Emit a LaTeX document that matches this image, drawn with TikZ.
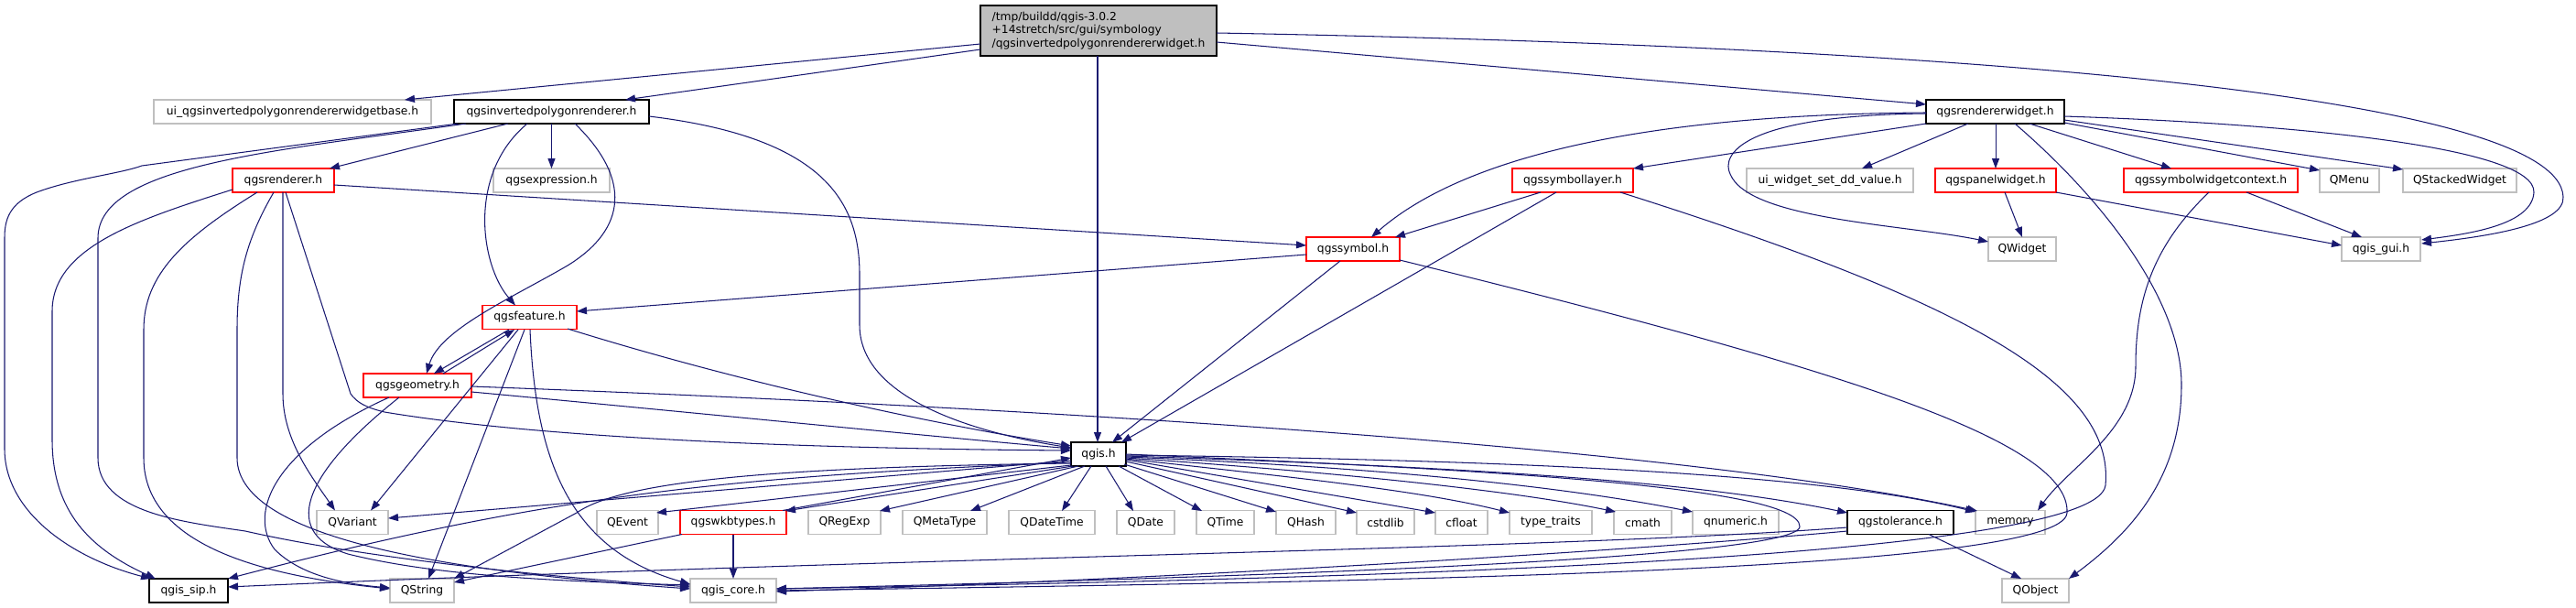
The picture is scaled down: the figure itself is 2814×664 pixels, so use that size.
\documentclass[tikz,border=0pt]{standalone}
\usepackage{fontspec}
\setmainfont{DejaVu Sans}
\usetikzlibrary{arrows.meta,calc}
\definecolor{edgec}{HTML}{191970}
\definecolor{extc}{HTML}{BFBFBF}
\definecolor{redc}{HTML}{FF0000}
\begin{document}
\begin{tikzpicture}[x=1pt,y=-1pt,
  box/.style={draw, rectangle, line width=1.1pt, inner sep=0pt, minimum height=26pt, font=\fontsize{12.3}{14.7}\selectfont},
  ext/.style={box, draw=extc},
  docn/.style={box, draw=redc},
  locn/.style={box, draw=black},
  e/.style={draw=edgec, line width=1.05pt, -{Triangle[length=11pt,width=8pt]}}
]
\useasboundingbox (0,0) rectangle (2814,664);
% nodes
\node[box, fill=extc, draw=black, minimum width=258pt, minimum height=55pt, align=left] (main) at (1200,33.5) {/tmp/buildd/qgis-3.0.2\\+14stretch/src/gui/symbology\\/qgsinvertedpolygonrendererwidget.h};
\node[ext, minimum width=303pt] (uib) at (319.5,122) {ui\_qgsinvertedpolygonrendererwidgetbase.h};
\node[locn, minimum width=213pt] (inv) at (602.5,122) {qgsinvertedpolygonrenderer.h};
\node[locn, minimum width=151pt] (rw) at (2179.5,122) {qgsrendererwidget.h};
\node[docn, minimum width=111pt] (rend) at (309.5,197) {qgsrenderer.h};
\node[ext, minimum width=127pt] (expr) at (602.5,197) {qgsexpression.h};
\node[docn, minimum width=132pt] (symlay) at (1718,197) {qgssymbollayer.h};
\node[ext, minimum width=182pt] (uidd) at (1999,197) {ui\_widget\_set\_dd\_value.h};
\node[docn, minimum width=132pt] (panel) at (2180,197) {qgspanelwidget.h};
\node[docn, minimum width=190pt] (swc) at (2415,197) {qgssymbolwidgetcontext.h};
\node[ext, minimum width=65pt] (qmenu) at (2566.5,197) {QMenu};
\node[ext, minimum width=124pt] (qsw) at (2687,197) {QStackedWidget};
\node[docn, minimum width=102pt] (sym) at (1478,272) {qgssymbol.h};
\node[ext, minimum width=74pt] (qwidget) at (2209,272) {QWidget};
\node[ext, minimum width=86pt] (gui) at (2601,272) {qgis\_gui.h};
\node[docn, minimum width=103pt] (feat) at (578.5,346.5) {qgsfeature.h};
\node[docn, minimum width=118pt] (geom) at (456,421) {qgsgeometry.h};
\node[locn, minimum width=60pt] (qgis) at (1200,496) {qgis.h};
\node[ext, minimum width=78pt] (qvariant) at (385,570.5) {QVariant};
\node[ext, minimum width=67pt] (qevent) at (685.5,570.5) {QEvent};
\node[docn, minimum width=116pt] (wkb) at (801,570.5) {qgswkbtypes.h};
\node[ext, minimum width=79pt] (qregexp) at (922.5,570.5) {QRegExp};
\node[ext, minimum width=92pt] (qmeta) at (1032,570.5) {QMetaType};
\node[ext, minimum width=94pt] (qdt) at (1149,570.5) {QDateTime};
\node[ext, minimum width=63pt] (qdate) at (1251.5,570.5) {QDate};
\node[ext, minimum width=63pt] (qtime) at (1338.5,570.5) {QTime};
\node[ext, minimum width=65pt] (qhash) at (1426.5,570.5) {QHash};
\node[ext, minimum width=63pt] (cstdlib) at (1513.5,570.5) {cstdlib};
\node[ext, minimum width=57pt] (cfloat) at (1596.5,570.5) {cfloat};
\node[ext, minimum width=90pt] (tt) at (1694,570.5) {type\_traits};
\node[ext, minimum width=63pt] (cmath) at (1794.5,570.5) {cmath};
\node[ext, minimum width=94pt] (qnum) at (1896,570.5) {qnumeric.h};
\node[locn, minimum width=116pt] (tol) at (2076,570.5) {qgstolerance.h};
\node[ext, minimum width=76pt] (memory) at (2196,570.5) {memory};
\node[locn, minimum width=86pt] (sip) at (206,645) {qgis\_sip.h};
\node[ext, minimum width=70pt] (qstring) at (461,645) {QString};
\node[ext, minimum width=94pt] (core) at (801,645) {qgis\_core.h};
\node[ext, minimum width=73pt] (qobject) at (2223.5,645) {QObject};
% edges from main
\draw[e] ($(main)+(-129,14.5)$) -- ($(uib)+(122.5,-13)$);
\draw[e] ($(main)+(-129,20.5)$) -- ($(inv)+(80.5,-13)$);
\draw[e] ($(main)+(-1,27.5)$) -- ($(qgis)+(-1,-13)$);
\draw[e] ($(main)+(129,12.5)$) -- ($(rw)+(-75.5,-8)$);
\draw[e] ($(main)+(129,2.5)$) .. controls (2100,50) and (2795,100) .. (2800,215) .. controls (2802,245) and (2720,258) .. ($(gui)+(44,-6)$);
% edges from qgsinvertedpolygonrenderer.h
\draw[e] ($(inv)+(-47.5,13)$) -- ($(rend)+(50.5,-13)$);
\draw[e] ($(inv)+(0,13)$) -- ($(expr)+(0,-13)$);
\draw[e] ($(inv)+(-26.5,13)$) .. controls (510,190) and (525,290) .. ($(feat)+(-15.5,-13)$);
\draw[e] ($(inv)+(25.5,13)$) .. controls (690,195) and (685,250) .. (620,290) .. controls (560,325) and (480,360) .. ($(geom)+(10,-13)$);
\draw[e] ($(inv)+(106.5,5)$) .. controls (900,150) and (939,220) .. (939,300) -- (939,355) .. controls (939,440) and (1080,475) .. ($(qgis)+(-30,-7)$);
\draw[e] ($(inv)+(-102.5,13)$) -- (155,181) .. controls (130,190) and (80,195) .. (40,210) .. controls (10,222) and (5,240) .. (5,260) -- (5,490) .. controls (5,560) and (80,610) .. ($(sip)+(-41,-13)$);
\draw[e] ($(inv)+(-93.5,13)$) .. controls (300,165) and (107,180) .. (107,260) -- (107,500) .. controls (107,560) and (200,570) .. (268,580) .. controls (400,610) and (600,630) .. ($(core)+(-47,-4)$);
% edges from qgsrenderer.h
\draw[e] ($(rend)+(55.5,5)$) -- ($(sym)+(-51,-4)$);
\draw[e] ($(rend)+(-55.5,10)$) .. controls (150,240) and (57,270) .. (57,340) -- (57,480) .. controls (57,560) and (100,600) .. ($(sip)+(-36,-13)$);
\draw[e] ($(rend)+(-28.5,13)$) .. controls (200,260) and (157,300) .. (157,360) -- (157,500) .. controls (157,600) and (300,630) .. ($(qstring)+(-35,-2)$);
\draw[e] ($(rend)+(-10.5,13)$) .. controls (270,260) and (259,300) .. (259,360) -- (259,500) .. controls (259,590) and (500,625) .. ($(core)+(-47,-2)$);
\draw[e] ($(rend)+(-0.5,13)$) -- (309,430) .. controls (309,480) and (340,520) .. ($(qvariant)+(-19,-13)$);
\draw[e] ($(rend)+(2.5,13)$) -- (383,430) .. controls (390,440) and (400,445) .. (420,450) .. controls (600,480) and (900,490) .. ($(qgis)+(-30,-4)$);
% edges from qgssymbol.h
\draw[e] ($(sym)+(-51,6)$) -- ($(feat)+(51.5,-6.5)$);
\draw[e] ($(sym)+(-14,13)$) -- ($(qgis)+(15,-13)$);
\draw[e] ($(sym)+(51,12)$) .. controls (2000,400) and (2262,480) .. (2258,560) .. controls (2255,625) and (1500,635) .. ($(core)+(47,0)$);
% edges from qgssymbollayer.h
\draw[e] ($(symlay)+(-35,13)$) -- ($(sym)+(46,-13)$);
\draw[e] ($(symlay)+(-18,13)$) -- ($(qgis)+(25,-13)$);
\draw[e] ($(symlay)+(52,13)$) .. controls (2150,330) and (2310,420) .. (2300,530) .. controls (2290,610) and (1500,632) .. ($(core)+(47,-2)$);
% edges from qgsrendererwidget.h
\draw[e] ($(rw)+(-75.5,1)$) .. controls (1800,125) and (1600,170) .. ($(sym)+(20,-13)$);
\draw[e] ($(rw)+(-75.5,13)$) -- ($(symlay)+(66,-13)$);
\draw[e] ($(rw)+(-75.5,2)$) .. controls (1900,126) and (1880,170) .. (1890,190) .. controls (1910,240) and (2080,245) .. ($(qwidget)+(-37,-8)$);
\draw[e] ($(rw)+(-29.5,13)$) -- ($(uidd)+(35,-13)$);
\draw[e] ($(rw)+(0.5,13)$) -- ($(panel)+(0,-13)$);
\draw[e] ($(rw)+(37.5,13)$) -- ($(swc)+(-43,-13)$);
\draw[e] ($(rw)+(75.5,12)$) -- ($(qmenu)+(-32.5,-11)$);
\draw[e] ($(rw)+(75.5,9)$) -- ($(qsw)+(-62,-12)$);
\draw[e] ($(rw)+(75.5,5)$) .. controls (2500,135) and (2770,160) .. (2768,210) .. controls (2766,245) and (2700,255) .. ($(gui)+(44,-10)$);
\draw[e] ($(rw)+(21.5,13)$) .. controls (2300,220) and (2383,330) .. (2383,420) .. controls (2383,520) and (2330,580) .. ($(qobject)+(36.5,-13)$);
% panel, symbol widget context
\draw[e] ($(panel)+(10,13)$) -- ($(qwidget)+(0,-13)$);
\draw[e] ($(panel)+(66,13)$) -- ($(gui)+(-43,-4)$);
\draw[e] ($(swc)+(39,13)$) -- ($(gui)+(-21,-13)$);
\draw[e] ($(swc)+(-2,13)$) .. controls (2350,270) and (2333,330) .. (2333,400) .. controls (2333,470) and (2260,510) .. ($(memory)+(30,-13)$);
% feature / geometry
\draw[e] ($(feat)+(-22.5,13.5)$) -- ($(geom)+(18,-13)$);
\draw[e] ($(geom)+(28,-13)$) -- ($(feat)+(-16.5,13.5)$);
\draw[e] ($(feat)+(-12.5,13.5)$) -- ($(qvariant)+(20,-13)$);
\draw[e] ($(feat)+(-5.5,13.5)$) -- ($(qstring)+(7,-13)$);
\draw[e] ($(feat)+(0.5,13.5)$) .. controls (585,500) and (620,600) .. ($(core)+(-47,-7)$);
\draw[e] ($(feat)+(41.5,12.5)$) .. controls (800,415) and (1000,460) .. ($(qgis)+(-30,-9)$);
\draw[e] ($(geom)+(59,7)$) .. controls (700,445) and (1000,475) .. ($(qgis)+(-30,-6)$);
\draw[e] ($(geom)+(59,1)$) .. controls (1000,440) and (1800,480) .. ($(memory)+(-36,-12.5)$);
\draw[e] ($(geom)+(-31,13)$) .. controls (300,490) and (270,560) .. (300,600) .. controls (330,630) and (380,638) .. ($(qstring)+(-35,-3)$);
\draw[e] ($(geom)+(-20,13)$) .. controls (340,510) and (300,580) .. (380,605) .. controls (480,630) and (620,635) .. ($(core)+(-47,-6)$);
% qgis.h
\draw[e] ($(qgis)+(-30,7)$) -- ($(qvariant)+(39,-4.5)$);
\draw[e] ($(qgis)+(-30,9)$) .. controls (800,520) and (600,540) .. ($(sip)+(43,-13)$);
\draw[e] ($(qgis)+(-30,10)$) .. controls (850,510) and (680,525) .. (630,560) -- ($(qstring)+(35,-13)$);
\draw[e] ($(qgis)+(-30,12)$) -- ($(qevent)+(31.5,-10.5)$);
\draw[e] ($(qgis)+(-28,13)$) -- ($(wkb)+(57,-12.5)$);
\draw[e] ($(wkb)+(54,-13)$) -- ($(qgis)+(-30,4)$);
\draw[e] ($(qgis)+(-22,13)$) -- ($(qregexp)+(38.5,-12.5)$);
\draw[e] ($(qgis)+(-15,13)$) -- ($(qmeta)+(28,-12.5)$);
\draw[e] ($(qgis)+(-8,13)$) -- ($(qdt)+(11,-12.5)$);
\draw[e] ($(qgis)+(8,13)$) -- ($(qdate)+(-13.5,-12.5)$);
\draw[e] ($(qgis)+(22,13)$) -- ($(qtime)+(-25.5,-12.5)$);
\draw[e] ($(qgis)+(28,11)$) -- ($(qhash)+(-32.5,-11.5)$);
\draw[e] ($(qgis)+(30,8)$) -- ($(cstdlib)+(-31.5,-10.5)$);
\draw[e] ($(qgis)+(30,6)$) -- ($(cfloat)+(-28.5,-10.5)$);
\draw[e] ($(qgis)+(30,5)$) .. controls (1400,520) and (1550,535) .. ($(tt)+(-45,-10.5)$);
\draw[e] ($(qgis)+(30,4)$) .. controls (1450,515) and (1650,535) .. ($(cmath)+(-29.5,-11.5)$);
\draw[e] ($(qgis)+(30,3)$) .. controls (1500,510) and (1700,530) .. ($(qnum)+(-47,-11.5)$);
\draw[e] ($(qgis)+(30,2)$) .. controls (1600,510) and (1850,525) .. ($(tol)+(-58,-10.5)$);
\draw[e] ($(qgis)+(30,1)$) .. controls (1700,503) and (2000,520) .. ($(memory)+(-38,-11.5)$);
\draw[e] ($(qgis)+(30,0)$) .. controls (1600,512) and (1966,530) .. (1966,575) .. controls (1966,612) and (1300,632) .. ($(core)+(47,-2)$);
% qgswkbtypes.h
\draw[e] ($(wkb)+(0,13)$) -- ($(core)+(0,-13)$);
\draw[e] ($(wkb)+(-56,13)$) -- ($(qstring)+(35,-9)$);
% qgstolerance.h
\draw[e] ($(tol)+(-58,9.5)$) .. controls (1800,600) and (1300,632) .. ($(core)+(47,1)$);
\draw[e] ($(tol)+(-58,5.5)$) .. controls (1700,600) and (1000,608) .. ($(sip)+(43,-4)$);
\draw[e] ($(tol)+(31,13)$) -- ($(qobject)+(-15.5,-13)$);
\end{tikzpicture}
\end{document}
